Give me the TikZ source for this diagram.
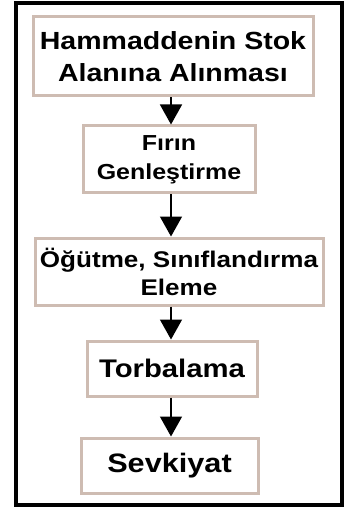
\documentclass[tikz,border=0pt]{standalone}
\usepackage{fontspec}
\setmainfont{Liberation Sans}[FakeStretch=1.15]
\usetikzlibrary{arrows.meta}
\definecolor{boxline}{RGB}{206,188,178}
\begin{document}
\begin{tikzpicture}[x=0.75pt,y=-0.75pt,
  stepbox/.style={draw=boxline,line width=2.25pt,fill=white,inner sep=0pt,
    align=center,font=\bfseries,text=black},
  flow/.style={line width=1.1pt,-{Triangle[width=16.5pt,length=15pt]}},
  frame/.style={line width=3pt,draw=black}]
  \useasboundingbox (0,0) rectangle (361,513);
  \draw[frame] (16,3) rectangle (342,505);

  \node[stepbox,minimum width=280*0.75pt,minimum height=79*0.75pt,
        font=\fontsize{18.6pt}{24pt}\selectfont\bfseries]
    (b1) at (173,56.5) {Hammaddenin Stok\\Alanına Alınması};
  \node[stepbox,minimum width=172*0.75pt,minimum height=67*0.75pt,
        font=\fontsize{16.3pt}{21.8pt}\selectfont\bfseries]
    (b2) at (169,159.5) {Fırın\\Genleştirme};
  \node[stepbox,minimum width=288*0.75pt,minimum height=67*0.75pt,
        font=\fontsize{17pt}{21pt}\selectfont\bfseries]
    (b3) at (179,271.5) {Öğütme, Sınıflandırma\\Eleme};
  \node[stepbox,minimum width=170*0.75pt,minimum height=55*0.75pt,
        font=\fontsize{19.1pt}{23pt}\selectfont\bfseries]
    (b4) at (172,368.5) {Torbalama};
  \node[stepbox,minimum width=177*0.75pt,minimum height=55*0.75pt,
        font=\fontsize{20pt}{24pt}\selectfont\bfseries]
    (b5) at (169.5,465.5) {Sevkiyat};

  \coordinate (axis) at (171,0);
  \draw[flow] (b1.south -| axis) -- (b2.north -| axis);
  \draw[flow] (b2.south -| axis) -- (b3.north -| axis);
  \draw[flow] (b3.south -| axis) -- (b4.north -| axis);
  \draw[flow] (b4.south -| axis) -- (b5.north -| axis);
\end{tikzpicture}
\end{document}
